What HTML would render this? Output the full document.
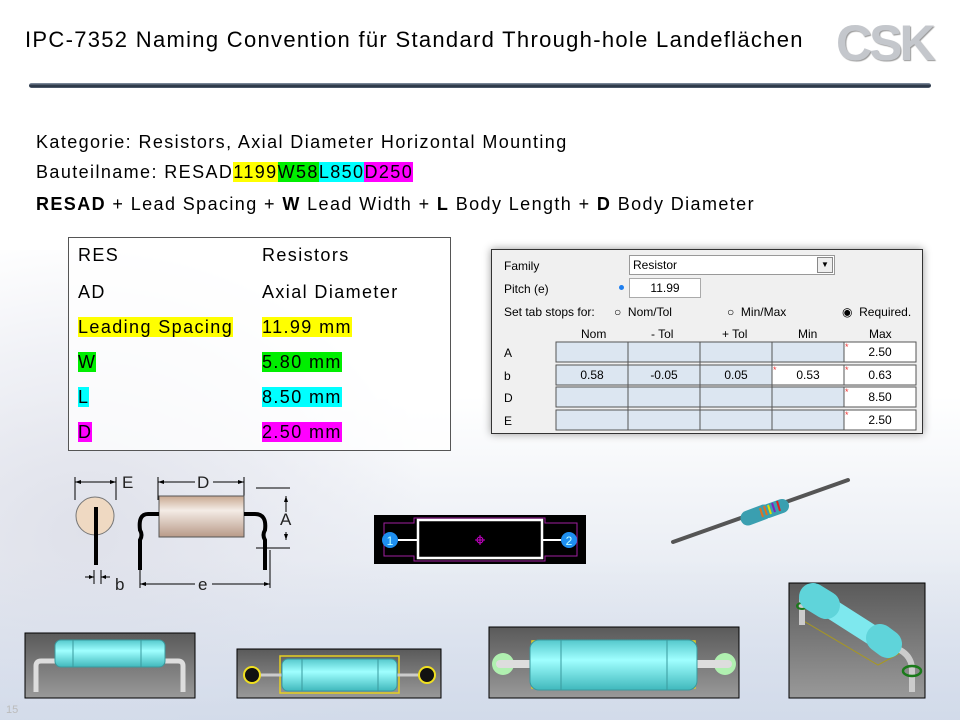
<!DOCTYPE html>
<html><head><meta charset="utf-8">
<style>
body{margin:0;width:960px;height:720px;overflow:hidden;position:relative;font-family:"Liberation Sans",sans-serif;
background:linear-gradient(180deg,#fff 0%,#fff 55%,#e8ecf3 80%,#dde3ee 100%);}
.a{position:absolute;white-space:nowrap}
.t{font-size:18px;color:#000;letter-spacing:1.4px}
.y{background:#ffff00}.g{background:#00ee00}.c{background:#00ffff}.m{background:#ff00ff}
</style></head><body>
<div style="position:absolute;left:0;top:250px;width:420px;height:470px;background:radial-gradient(ellipse at 20% 60%,#dfe1ea 0%,rgba(230,232,240,0.6) 45%,rgba(255,255,255,0) 75%)"></div>
<div style="position:absolute;left:0;top:560px;width:960px;height:160px;background:linear-gradient(180deg,rgba(220,228,240,0) 0%,rgba(205,215,232,0.7) 100%)"></div>

<div class="a" style="left:25px;top:27px;font-size:22px;letter-spacing:1.3px;">IPC-7352 Naming Convention für Standard Through-hole Landeflächen</div>
<div class="a" style="left:836px;top:14px;font-size:50px;font-weight:bold;color:#c4c7cc;letter-spacing:-3px;text-shadow:1px 1px 1px #999;">CSK</div>
<div style="position:absolute;left:29px;top:83px;width:902px;height:5px;border-radius:3px;background:linear-gradient(180deg,#8a97a8,#1e2a3a 60%,#5a6677)"></div>

<div class="a t" style="left:36px;top:132px;">Kategorie: Resistors, Axial Diameter Horizontal Mounting</div>
<div class="a t" style="left:36px;top:162px;">Bauteilname: RESAD<span class="y">1199</span><span class="g">W58</span><span class="c">L850</span><span class="m">D250</span></div>
<div class="a t" style="left:36px;top:194px;"><b>RESAD</b> + Lead Spacing + <b>W</b> Lead Width + <b>L</b> Body Length + <b>D</b> Body Diameter</div>

<div style="position:absolute;left:68px;top:237px;width:381px;height:212px;border:1px solid #555;background:rgba(255,255,255,0.75)"></div>
<div class="a t" style="left:78px;top:245px;">RES</div><div class="a t" style="left:262px;top:245px;">Resistors</div>
<div class="a t" style="left:78px;top:282px;">AD</div><div class="a t" style="left:262px;top:282px;">Axial Diameter</div>
<div class="a t" style="left:78px;top:317px;"><span class="y">Leading Spacing</span></div><div class="a t" style="left:262px;top:317px;"><span class="y">11.99 mm</span></div>
<div class="a t" style="left:78px;top:352px;"><span class="g">W</span></div><div class="a t" style="left:262px;top:352px;"><span class="g">5.80 mm</span></div>
<div class="a t" style="left:78px;top:387px;"><span class="c">L</span></div><div class="a t" style="left:262px;top:387px;"><span class="c">8.50 mm</span></div>
<div class="a t" style="left:78px;top:422px;"><span class="m">D</span></div><div class="a t" style="left:262px;top:422px;"><span class="m">2.50 mm</span></div>

<!-- dialog -->
<div style="position:absolute;left:491px;top:249px;width:430px;height:183px;background:#f0f0f0;border:1px solid #333;box-shadow:0 0 8px #999;font-size:12px;">
<div class="a" style="left:12px;top:9px">Family</div>
<div style="position:absolute;left:137px;top:5px;width:204px;height:18px;background:#fff;border:1px solid #999"><span style="position:absolute;left:3px;top:2px">Resistor</span><div style="position:absolute;right:1px;top:1px;width:14px;height:14px;border:1px solid #888;background:#eee;font-size:8px;text-align:center;line-height:14px">▼</div></div>
<div class="a" style="left:12px;top:32px">Pitch (e)</div>
<div style="position:absolute;left:127px;top:35px;width:5px;height:5px;border-radius:3px;background:#1e7ff0"></div>
<div style="position:absolute;left:137px;top:28px;width:70px;height:18px;background:#fff;border:1px solid #aaa;text-align:center;line-height:18px">11.99</div>
<div class="a" style="left:12px;top:55px">Set tab stops for:</div>
<div class="a" style="left:122px;top:55px">○ &nbsp;Nom/Tol</div>
<div class="a" style="left:235px;top:55px">○ &nbsp;Min/Max</div>
<div class="a" style="left:350px;top:55px">◉ &nbsp;Required.</div>
<div class="a" style="left:89px;top:77px">Nom</div><div class="a" style="left:159px;top:77px">- Tol</div><div class="a" style="left:230px;top:77px">+ Tol</div><div class="a" style="left:306px;top:77px">Min</div><div class="a" style="left:377px;top:77px">Max</div>
<div class="a" style="left:12px;top:96px">A</div><div class="a" style="left:12px;top:119px">b</div><div class="a" style="left:12px;top:141px">D</div><div class="a" style="left:12px;top:164px">E</div>
<svg style="position:absolute;left:0;top:0" width="430" height="183">
<g stroke="#555" stroke-width="1">
<rect x="64" y="92" width="288" height="20" fill="#dce6f1"/><rect x="64" y="115" width="216" height="20" fill="#dce6f1"/><rect x="64" y="137" width="288" height="20" fill="#dce6f1"/><rect x="64" y="160" width="288" height="20" fill="#dce6f1"/>
<rect x="280" y="115" width="72" height="20" fill="#fff"/>
<rect x="352" y="92" width="72" height="20" fill="#fff"/><rect x="352" y="115" width="72" height="20" fill="#fff"/><rect x="352" y="137" width="72" height="20" fill="#fff"/><rect x="352" y="160" width="72" height="20" fill="#fff"/>
<path d="M136 92V180M208 92V180M280 92V180"/></g>
<g fill="#e33" font-size="9" font-family="Liberation Sans"><text x="353" y="100">*</text><text x="353" y="123">*</text><text x="353" y="145">*</text><text x="353" y="168">*</text><text x="281" y="123">*</text></g>
<g font-size="12" font-family="Liberation Sans" text-anchor="middle"><text x="388" y="106">2.50</text><text x="388" y="129">0.63</text><text x="388" y="151">8.50</text><text x="388" y="174">2.50</text><text x="316" y="129">0.53</text><text x="100" y="129">0.58</text><text x="172" y="129">-0.05</text><text x="244" y="129">0.05</text></g>
</svg></div>

<svg style="position:absolute;left:0;top:0" width="960" height="720">
<defs><linearGradient id="bd" x1="0" y1="0" x2="0" y2="1"><stop offset="0" stop-color="#c8a890"/><stop offset="0.35" stop-color="#f4ece6"/><stop offset="1" stop-color="#b89a88"/></linearGradient>
<linearGradient id="cy" x1="0" y1="0" x2="0" y2="1"><stop offset="0" stop-color="#55c8cc"/><stop offset="0.4" stop-color="#a0ffff"/><stop offset="1" stop-color="#40b8bc"/></linearGradient>
<linearGradient id="gr" x1="0" y1="0" x2="0" y2="1"><stop offset="0" stop-color="#5a5a5a"/><stop offset="1" stop-color="#999"/></linearGradient></defs>
<g stroke="#000" stroke-width="1" fill="none">
<path d="M75 477V500M116 477V500M75 482H116M158 477V500M244 477V500M158 482H195M213 482H244M256 488H290M256 548H290M286 496V512M286 532V540M94 570V584M101 570V584M85 577H94M101 577H110M140 550V588M270 550V588M140 584H195M212 584H270"/></g>
<g fill="#000"><path d="M75 482l6-2v4zM116 482l-6-2v4zM158 482l6-2v4zM244 482l-6-2v4zM286 496l-2 6h4zM286 540l-2-6h4zM94 577l-5-2v4zM101 577l5-2v4zM140 584l6-2v4zM270 584l-6-2v4z"/></g>
<circle cx="95" cy="516" r="19" fill="#efd9c2" stroke="#777"/>
<path d="M96 507V565" stroke="#000" stroke-width="4"/>
<rect x="159" y="496" width="85" height="41" fill="url(#bd)" stroke="#555"/>
<path d="M159 514H148Q138 514 140 530Q143 535 140 540V570M244 514H255Q267 514 265 530Q262 535 265 540V570" stroke="#000" stroke-width="4" fill="none"/>
<g font-family="Liberation Sans" font-size="17" fill="#222"><text x="122" y="488">E</text><text x="197" y="488">D</text><text x="280" y="525">A</text><text x="115" y="590">b</text><text x="198" y="590">e</text></g>
<rect x="374" y="515" width="212" height="49" fill="#000"/>
<path d="M384 523H414V518H545V523H577V556H545V561H414V556H384Z" fill="none" stroke="#a020a0"/>
<rect x="418" y="520" width="124" height="38" fill="none" stroke="#fff" stroke-width="2.5"/>
<path d="M398 540H418M542 540H562" stroke="#fff" stroke-width="2"/>
<circle cx="390" cy="540" r="8" fill="#1e8ff0"/><circle cx="569" cy="540" r="8" fill="#1e8ff0"/>
<text x="390" y="545" font-size="12" fill="#bff" text-anchor="middle" font-family="Liberation Sans">1</text><text x="569" y="545" font-size="12" fill="#bff" text-anchor="middle" font-family="Liberation Sans">2</text>
<circle cx="480" cy="540" r="3" fill="none" stroke="#c0c"/><path d="M475 540H485M480 535V545" stroke="#c0c"/>
<path d="M673 542L848 480" stroke="#555" stroke-width="4" stroke-linecap="round"/>
<path d="M748 518L764 512" stroke="#3a9fb0" stroke-width="15" stroke-linecap="round"/>
<path d="M760 514L778 507" stroke="#3a9fb0" stroke-width="12" stroke-linecap="round"/>
<path d="M768 511L782 506" stroke="#3a9fb0" stroke-width="14" stroke-linecap="round"/>
<path d="M763 517L760 508M767 515L764 506" stroke="#e07020" stroke-width="2"/><path d="M771 514L768 505" stroke="#e0e000" stroke-width="2"/><path d="M775 512L772 503" stroke="#8020c0" stroke-width="2"/><path d="M780 511L777 501" stroke="#e02020" stroke-width="2"/>
<rect x="25" y="633" width="170" height="65" fill="url(#gr)" stroke="#000"/>
<path d="M36 692V666Q36 661 41 661H178Q183 661 183 666V692" stroke="#ddd" stroke-width="5" fill="none"/>
<rect x="55" y="640" width="110" height="27" rx="6" fill="url(#cy)" stroke="#3a9a9e"/>
<path d="M73 640V667M141 640V667" stroke="#3a9a9e"/>
<rect x="237" y="649" width="204" height="49" fill="url(#gr)" stroke="#000"/>
<rect x="280" y="656" width="119" height="37" fill="none" stroke="#e6d020" stroke-width="1.5"/>
<path d="M252 675H430" stroke="#ccc" stroke-width="3"/>
<circle cx="252" cy="675" r="8" fill="#111" stroke="#f0e020" stroke-width="2"/><circle cx="427" cy="675" r="8" fill="#111" stroke="#f0e020" stroke-width="2"/>
<rect x="282" y="659" width="115" height="32" rx="6" fill="url(#cy)" stroke="#3a9a9e"/>
<path d="M302 659V691M378 659V691" stroke="#3a9a9e"/>
<rect x="489" y="627" width="250" height="71" fill="url(#gr)" stroke="#000"/>
<circle cx="503" cy="664" r="11" fill="#b0f0b0"/><circle cx="725" cy="664" r="11" fill="#b0f0b0"/>
<path d="M500 664H728" stroke="#ddd" stroke-width="8" stroke-linecap="round"/>
<rect x="532" y="641" width="163" height="47" fill="none" stroke="#e6d020" stroke-width="1.5"/>
<rect x="530" y="640" width="167" height="50" rx="9" fill="url(#cy)" stroke="#3a9a9e"/>
<path d="M561 640V690M667 640V690" stroke="#3a9a9e"/>
<rect x="789" y="583" width="136" height="115" fill="url(#gr)" stroke="#000"/>
<path d="M802 620L878 665L902 652" stroke="#a89820" fill="none"/>
<path d="M802 625V600Q802 595 808 597M885 645Q912 650 912 670V692" stroke="#ccc" stroke-width="6" fill="none"/>
<ellipse cx="802" cy="606" rx="5" ry="3" fill="none" stroke="#1a7a1a" stroke-width="2"/><ellipse cx="912" cy="671" rx="9" ry="5" fill="none" stroke="#1a7a1a" stroke-width="2.5"/>
<path d="M822 603L880 640" stroke="#7ee8ee" stroke-width="20" stroke-linecap="round"/>
<path d="M813 597L826 605" stroke="#5fd4da" stroke-width="28" stroke-linecap="round"/>
<path d="M880 638L888 644" stroke="#5fd4da" stroke-width="28" stroke-linecap="round"/>
</svg>
<div class="a" style="left:6px;top:704px;font-size:11px;color:#bbb">15</div>
</body></html>
